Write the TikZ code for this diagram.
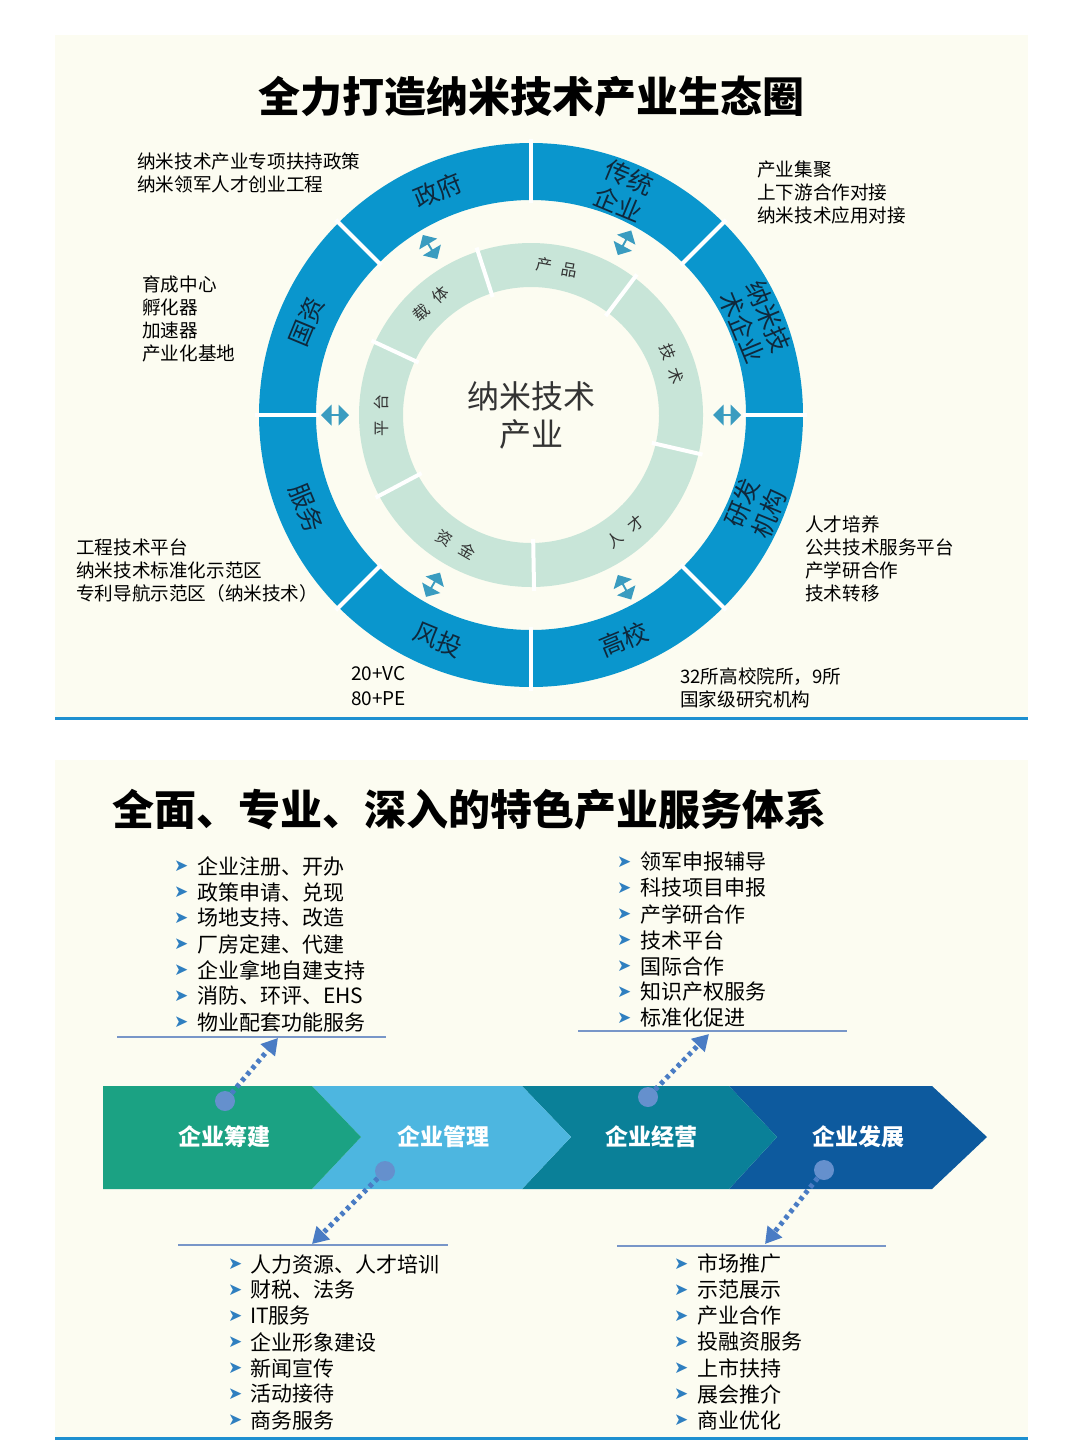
\documentclass[tikz,border=0pt]{standalone}
\usepackage{fontspec}
\setmainfont{Noto Sans CJK SC}
\newfontfamily\sym{DejaVu Sans}
\usetikzlibrary{shapes.arrows,arrows.meta}
\definecolor{bg}{RGB}{252,252,241}
\definecolor{ring}{RGB}{10,150,205}
\definecolor{inner}{RGB}{200,229,216}
\definecolor{darr}{RGB}{58,156,192}
\definecolor{lineb}{RGB}{30,144,208}
\definecolor{c1}{RGB}{27,162,131}
\definecolor{c2}{RGB}{77,182,224}
\definecolor{c3}{RGB}{10,128,152}
\definecolor{c4}{RGB}{13,90,158}
\definecolor{dot}{RGB}{74,124,196}
\definecolor{bul}{RGB}{47,127,192}
\definecolor{ulin}{RGB}{120,150,200}
\definecolor{olt}{RGB}{15,40,60}
\begin{document}
\begin{tikzpicture}[x=1pt,y=-1pt,
  side/.style={anchor=north west,align=left,font=\fontsize{18.6}{23}\selectfont,inner sep=0},
  olab/.style={font=\fontsize{25}{29}\selectfont,text=olt,align=center,inner sep=0},
  ilab/.style={font=\fontsize{16}{18}\selectfont,text=black!80,inner sep=0},
  darrow/.style={double arrow,fill=darr,minimum height=28pt,minimum width=21pt,double arrow head extend=2pt,inner sep=0},
  chev/.style={font=\bfseries\fontsize{23}{26}\selectfont,text=white},
  item/.style={anchor=west,font=\fontsize{21}{24}\selectfont,inner sep=0},
  bl/.style={anchor=west,font=\sym\fontsize{17}{18}\selectfont,text=bul,inner sep=0},
  dotc/.style={circle,fill=dot!85,minimum size=20pt,inner sep=0},
  darrline/.style={dot,line width=5pt,dash pattern=on 4pt off 4pt,-{Triangle[length=16pt,width=18pt]}},
]
\useasboundingbox (0,0) rectangle (1080,1440);
\fill[white] (0,0) rectangle (1080,1440);
\fill[bg] (55,35) rectangle (1028,718);
\fill[bg] (55,760) rectangle (1028,1440);
\draw[lineb,line width=3pt] (55,718) -- (1028,718);
\draw[lineb,line width=3pt] (55,1438) -- (1028,1438);

\node[font=\bfseries\fontsize{42}{46}\selectfont] (t1) at (531,97) {全力打造纳米技术产业生态圈};

\begin{scope}[shift={(531,415)},yscale=-1]
  \foreach \a in {0,45,...,315}{
    \fill[ring] (\a:272) arc[start angle=\a,end angle=\a+45,radius=272] -- (\a+45:215) arc[start angle=\a+45,end angle=\a,radius=215] -- cycle;
  }
  \foreach \a in {0,45,...,315}{ \draw[white,line width=4pt] (\a:212) -- (\a:276); }
  \foreach \a/\b in {108/155,53/108,-13/53,-89/-13,-152/-89,155/208}{
    \fill[inner] (\a:172) arc[start angle=\a,end angle=\b,radius=172] -- (\b:128) arc[start angle=\b,end angle=\a,radius=128] -- cycle;
  }
  \foreach \a in {108,53,-13,-89,-152,155}{ \draw[white,line width=4pt] (\a:124) -- (\a:176); }
  \node[olab,rotate=22.5] (o1) at (112.5:243) {政府};
  \node[olab,rotate=-22.5] (o2) at (67.5:243) {传统\\企业};
  \node[olab,rotate=-67.5] (o3) at (22.5:243) {纳米技\\术企业};
  \node[olab,rotate=67.5] (o4) at (-22.5:243) {研发\\机构};
  \node[olab,rotate=22.5] (o5) at (-67.5:243) {高校};
  \node[olab,rotate=-22.5] (o6) at (-112.5:243) {风投};
  \node[olab,rotate=-67.5] (o7) at (-157.5:243) {服务};
  \node[olab,rotate=67.5] (o8) at (157.5:243) {国资};
  \node[ilab,rotate=-10] (i1) at (80:150) {产\hspace{10pt}品};
  \node[ilab,rotate=-70] (i2) at (20:150) {技\hspace{10pt}术};
  \node[ilab,rotate=39] (i3) at (-51:150) {人\hspace{10pt}才};
  \node[ilab,rotate=-30] (i4) at (-120:150) {资\hspace{10pt}金};
  \node[ilab,rotate=90] (i5) at (180:150) {平\hspace{10pt}台};
  \node[ilab,rotate=42] (i6) at (132:150) {载\hspace{10pt}体};
  \foreach \a [count=\i] in {121,61.5,0,-61.5,-120,180}{ \node[darrow,rotate=\a] (d\i) at (\a:196) {}; }
  \node[font=\fontsize{32}{38}\selectfont,align=center,text=black!80] (ctr) at (0,0) {纳米技术\\产业};
\end{scope}

\node[side] (s1) at (137,153) {纳米技术产业专项扶持政策\\纳米领军人才创业工程};
\node[side] (s2) at (757,161) {产业集聚\\上下游合作对接\\纳米技术应用对接};
\node[side] (s3) at (142,276) {育成中心\\孵化器\\加速器\\产业化基地};
\node[side] (s4) at (76,539) {工程技术平台\\纳米技术标准化示范区\\专利导航示范区（纳米技术）};
\node[side] (s5) at (805,516) {人才培养\\公共技术服务平台\\产学研合作\\技术转移};
\node[side,font=\fontsize{19}{25}\selectfont] (s6) at (351,666) {20+VC\\80+PE};
\node[side] (s7) at (680,668) {32所高校院所，9所\\国家级研究机构};

\node[anchor=west,font=\bfseries\fontsize{42}{46}\selectfont,inner sep=0] (t2) at (112,810) {全面、专业、深入的特色产业服务体系};

% chevrons
\fill[c4] (729,1086) -- (932,1086) -- (987,1137) -- (932,1189) -- (729,1189) -- (777,1137) -- cycle;
\fill[c3] (522,1086) -- (729,1086) -- (777,1137) -- (729,1189) -- (522,1189) -- (571,1137) -- cycle;
\fill[c2] (312,1086) -- (522,1086) -- (571,1137) -- (522,1189) -- (312,1189) -- (361,1137) -- cycle;
\fill[c1] (103,1086) -- (312,1086) -- (361,1137) -- (312,1189) -- (103,1189) -- cycle;
\node[chev] (k1) at (224,1137) {企业筹建};
\node[chev] (k2) at (443,1137) {企业管理};
\node[chev] (k3) at (651,1137) {企业经营};
\node[chev] (k4) at (858,1137) {企业发展};

% lists
\foreach \t [count=\i] in {企业注册、开办,政策申请、兑现,场地支持、改造,厂房定建、代建,企业拿地自建支持,消防、环评、EHS,物业配套功能服务}{
  \node[bl] (la\i) at (174,840+26*\i) {➤}; \node[item] (a\i) at (197,840+26*\i) {\t};}
\foreach \t [count=\i] in {领军申报辅导,科技项目申报,产学研合作,技术平台,国际合作,知识产权服务,标准化促进}{
  \node[bl] (lb\i) at (617,836+26*\i) {➤}; \node[item] (b\i) at (640,836+26*\i) {\t};}
\foreach \t [count=\i] in {人力资源、人才培训,财税、法务,IT服务,企业形象建设,新闻宣传,活动接待,商务服务}{
  \node[bl] (lc\i) at (228,1238+26*\i) {➤}; \node[item] (c\i) at (250,1238+26*\i) {\t};}
\foreach \t [count=\i] in {市场推广,示范展示,产业合作,投融资服务,上市扶持,展会推介,商业优化}{
  \node[bl] (ld\i) at (674,1238+26*\i) {➤}; \node[item] (e\i) at (697,1238+26*\i) {\t};}
\draw[ulin,line width=1.2pt] (117,1037) -- (386,1037);
\draw[ulin,line width=1.2pt] (578,1031) -- (847,1031);
\draw[ulin,line width=1.2pt] (178,1245) -- (448,1245);
\draw[ulin,line width=1.2pt] (617,1246) -- (886,1246);

% dotted arrows
\node[dotc] (p1) at (225,1101) {};
\node[dotc] (p2) at (385,1171) {};
\node[dotc] (p3) at (648,1097) {};
\node[dotc] (p4) at (824,1170) {};
\coordinate (q1) at (278,1038);
\coordinate (q2) at (312,1244);
\coordinate (q3) at (709,1034);
\coordinate (q4) at (765,1244);
\foreach \i in {1,2,3,4}{ \draw[darrline] (p\i) -- (q\i); }
\end{tikzpicture}
\end{document}
